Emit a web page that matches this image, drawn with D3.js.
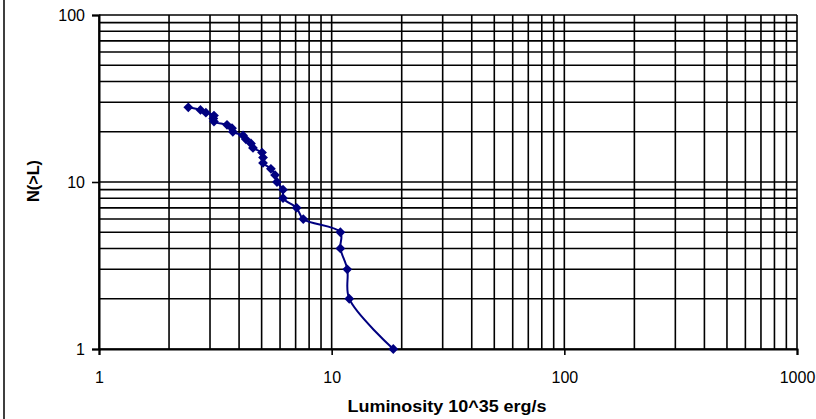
<!DOCTYPE html>
<html>
<head>
<meta charset="utf-8">
<script src="https://cdn.jsdelivr.net/npm/d3@7"></script>
<style>
  body { margin: 0; background: #fff; }
  text { font-family: "Liberation Sans", Arial, sans-serif; }
</style>
</head>
<body>
<svg id="chart" width="816" height="419"></svg>
<script>
// cumulative counts N(>L) and the luminosity read for each one
const counts = [28, 27, 26, 25, 24, 23, 22, 21, 20, 19, 18, 17, 16, 15, 14, 13, 12, 11, 10, 9, 8, 7, 6, 5, 4, 3, 2, 1];
const luminosity = [2.42, 2.73, 2.88, 3.12, 3.10, 3.12, 3.55, 3.73, 3.76, 4.16, 4.28, 4.50, 4.59, 5.02, 5.07, 5.07,
                    5.48, 5.71, 5.82, 6.18, 6.18, 7.07, 7.55, 10.9, 10.9, 11.67, 11.9, 18.4];
const xTicks = [1, 10, 100, 1000];
const yTicks = [1, 10, 100];

const svg = d3.select('#chart');

// outer chart frame (only the left edge falls inside the picture)
svg.append('rect')
  .attr('x', 4).attr('y', -3)
  .attr('width', 830).attr('height', 430)
  .attr('fill', 'none').attr('stroke', '#000').attr('stroke-width', 1.5);

const x = d3.scaleLog().domain([1, 1000]).range([99, 797]);
const y = d3.scaleLog().domain([1, 100]).range([349, 15]);

// every 1..9 multiple gets a grid line
const minorX = [];
for (let d = 1; d <= 100; d *= 10) for (let m = 1; m <= 9; m++) minorX.push(d * m);
minorX.push(1000);
const minorY = [];
for (let d = 1; d <= 10; d *= 10) for (let m = 1; m <= 9; m++) minorY.push(d * m);
minorY.push(100);

const grid = svg.append('g')
  .attr('stroke', '#000').attr('stroke-width', 1.6);
grid.selectAll('.gx').data(minorX).join('line')
  .attr('x1', d => x(d)).attr('x2', d => x(d))
  .attr('y1', y(100)).attr('y2', y(1));
grid.selectAll('.gy').data(minorY).join('line')
  .attr('x1', x(1)).attr('x2', x(1000))
  .attr('y1', d => y(d)).attr('y2', d => y(d));

const xAxis = svg.append('g')
  .attr('transform', `translate(0,${y(1)})`)
  .call(d3.axisBottom(x).tickValues(xTicks).tickFormat(d3.format('d')).tickSize(6).tickPadding(17));
const yAxis = svg.append('g')
  .attr('transform', `translate(${x(1)},0)`)
  .call(d3.axisLeft(y).tickValues(yTicks).tickFormat(d3.format('d')).tickSize(7).tickPadding(7));

[xAxis, yAxis].forEach(ax => {
  ax.select('.domain').attr('stroke', '#000').attr('stroke-width', 2);
  ax.selectAll('.tick line').attr('stroke', '#000').attr('stroke-width', 1.6);
  ax.selectAll('.tick text')
    .attr('fill', '#000')
    .style('font-family', '"Liberation Sans", Arial, sans-serif')
    .style('font-size', '16px');
});

const pts = counts.map((n, i) => ({ n, l: luminosity[i] }));

svg.append('path')
  .datum(pts)
  .attr('fill', 'none')
  .attr('stroke', '#000080')
  .attr('stroke-width', 2)
  .attr('d', d3.line().x(d => x(d.l)).y(d => y(d.n)).curve(d3.curveCatmullRom));

svg.append('g').selectAll('path')
  .data(pts)
  .join('path')
  .attr('transform', d => `translate(${x(d.l)},${y(d.n)}) rotate(45)`)
  .attr('d', d3.symbol(d3.symbolSquare, 48))
  .attr('fill', '#000080');

svg.append('text')
  .attr('x', 447).attr('y', 412)
  .attr('text-anchor', 'middle')
  .attr('font-weight', 'bold').attr('font-size', 16)
  .attr('textLength', 199).attr('lengthAdjust', 'spacingAndGlyphs')
  .text('Luminosity 10^35 erg/s');

svg.append('text')
  .attr('transform', 'translate(39,181) rotate(-90)')
  .attr('text-anchor', 'middle')
  .attr('font-weight', 'bold').attr('font-size', 16)
  .attr('textLength', 42).attr('lengthAdjust', 'spacingAndGlyphs')
  .text('N(>L)');
</script>
</body>
</html>
